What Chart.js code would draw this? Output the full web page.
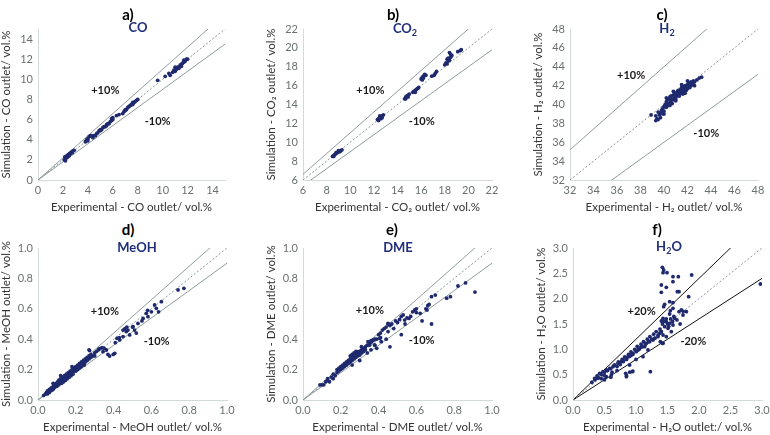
<!DOCTYPE html>
<html lang="en">
<head>
<meta charset="UTF-8">
<title>Simulation vs experimental outlet composition</title>
<script src="https://cdn.jsdelivr.net/npm/chart.js"></script>
<style>
body { margin:0; padding:0; background:#fff; font-family: Lato, "Liberation Sans", sans-serif; }
#wrap { position:relative; width:770px; height:435px; overflow:hidden; }
canvas { position:absolute; }
.tag { position:absolute; transform:translate(-50%,-50%); font-weight:bold; font-size:15px; color:#000; z-index:2; }
.sp { position:absolute; transform:translate(-50%,-50%); font-weight:bold; font-size:13px; color:#1f2f7a; z-index:2; white-space:nowrap; }
.sp sub { font-size:9px; }
</style>
</head>
<body>
<div id="wrap"></div>

<script>
// ---- data (experimental x, simulated y), vol.% ----
const coExp = [2.1,2.15,2.2,2.2,2.3,2.3,2.4,2.4,2.5,2.5,2.6,2.6,2.7,2.75,2.8,2.9,
  3.8,3.9,4.0,4.0,4.1,4.2,4.3,4.4,4.5,4.6,4.7,4.8,4.9,5.0,5.0,5.1,5.2,5.3,5.4,5.5,5.5,5.6,5.7,5.8,5.9,5.9,6.0,6.0,
  6.3,6.5,6.8,6.9,7.0,7.0,7.1,7.2,7.3,7.4,7.5,7.6,7.6,7.7,7.8,7.9,8.0,
  9.6,10.2,10.5,10.6,10.8,10.9,11.0,11.0,11.1,11.2,11.3,11.4,11.5,11.5,11.6,11.7,11.7,11.8,11.9,12.0];
const coSim = [2.0,2.3,2.2,1.9,2.4,2.2,2.5,2.3,2.6,2.4,2.7,2.6,2.8,2.7,2.9,2.95,
  3.8,4.0,4.1,3.9,4.3,4.4,4.4,4.2,4.4,4.4,4.6,4.7,4.9,5.0,4.9,5.0,5.2,5.3,5.3,5.5,5.4,5.6,5.6,5.8,5.9,6.1,6.0,6.2,
  6.4,6.5,6.6,6.8,7.0,6.9,7.0,7.2,7.3,7.4,7.5,7.5,7.7,7.7,7.8,7.9,8.0,
  9.9,10.3,10.6,10.4,10.7,10.9,10.8,11.2,11.0,11.2,11.1,11.4,11.5,11.3,11.6,11.7,11.9,11.8,12.0,12.0];

const co2Exp = [8.5,8.6,8.6,8.7,8.8,8.8,8.9,9.0,9.0,9.1,9.2,9.3,
  12.3,12.4,12.4,12.5,12.5,12.6,12.6,12.7,12.7,12.8,
  14.6,14.7,14.7,14.8,14.9,14.9,15.0,
  15.3,15.4,15.5,15.5,15.6,15.7,15.8,
  16.0,16.1,16.1,16.2,16.2,16.3,16.4,
  16.9,17.1,17.2,17.3,
  18.0,18.1,18.2,18.2,18.3,18.3,18.4,18.4,18.5,18.5,18.6,
  19.1,19.3,19.4];
const co2Sim = [8.5,8.6,8.5,8.7,8.8,8.9,8.9,9.0,9.1,9.0,9.1,9.2,
  12.4,12.5,12.3,12.6,12.8,12.7,12.5,12.8,12.6,12.9,
  14.6,14.8,14.6,14.9,15.0,14.8,15.1,
  15.3,15.4,15.5,15.3,15.6,15.7,15.8,
  16.7,16.9,16.6,17.0,16.8,17.2,17.1,
  17.0,17.1,17.3,17.5,
  18.2,18.4,18.3,18.8,18.6,18.9,18.7,19.5,19.0,19.3,19.2,
  19.6,19.7,19.8];

const h2Exp = [39.3,39.4,39.5,39.3,38.9,39.6,39.7,39.8,39.9,39.9,40.0,40.0,40.1,40.2,40.2,40.3,40.3,40.4,40.4,40.5,
  40.5,40.6,40.6,40.7,40.7,40.8,40.8,40.9,40.9,41.0,41.0,41.1,41.1,41.2,41.2,41.3,41.3,41.4,41.4,41.5,
  41.5,41.6,41.6,41.7,41.7,41.8,41.8,41.9,41.9,42.0,42.0,42.1,42.1,42.2,42.2,42.3,42.3,42.4,42.5,42.5,
  42.6,42.8,43.0,43.2,40.0,39.7,40.5,41.0,41.8,42.6,40.8,40.2,39.5,41.5,42.0];
const h2Sim = [38.3,38.5,38.4,38.8,38.9,38.9,39.1,39.4,39.0,39.6,39.8,39.3,40.0,39.7,40.3,40.0,40.5,39.9,40.6,40.2,
  40.8,40.4,40.9,40.1,40.6,41.0,40.5,40.8,41.2,40.6,41.0,41.3,40.9,41.1,41.5,40.9,41.3,41.6,41.2,41.4,
  41.8,41.1,41.6,41.9,41.4,41.7,42.0,41.5,41.9,42.1,41.7,42.0,42.3,41.8,42.2,42.4,42.0,42.3,42.1,42.5,
  42.4,42.6,42.8,42.9,39.0,38.6,39.9,40.4,41.2,42.0,41.4,40.7,39.2,42.1,42.5];

const meohExp = [0.03,0.04,0.045,0.05,0.05,0.06,0.06,0.065,0.07,0.07,0.075,0.08,0.08,0.085,0.09,0.09,0.095,0.1,0.1,0.105,
  0.11,0.11,0.115,0.12,0.12,0.125,0.13,0.13,0.135,0.14,0.14,0.145,0.15,0.15,0.155,0.16,0.16,0.165,0.17,0.17,
  0.175,0.18,0.18,0.185,0.19,0.19,0.195,0.2,0.2,0.205,0.21,0.21,0.215,0.22,0.22,0.225,0.23,0.23,0.24,0.24,
  0.245,0.25,0.25,0.26,0.26,0.27,0.27,0.28,0.28,0.29,0.3,0.3,0.31,0.32,0.33,0.34,0.35,0.12,0.08,0.18,0.27,
  0.273,0.323,0.344,0.362,0.37,0.379,0.398,0.406,0.409,0.418,0.432,0.45,0.467,0.476,0.485,0.503,0.511,0.529,
  0.556,0.573,0.582,0.617,0.626,0.638,0.653,0.741,0.772,0.58,0.6,0.55,0.5,0.45,0.47,0.43,0.52,0.46];
const meohSim = [0.03,0.04,0.05,0.04,0.06,0.05,0.07,0.06,0.07,0.08,0.065,0.09,0.07,0.08,0.1,0.085,0.11,0.09,0.11,0.12,
  0.1,0.13,0.115,0.12,0.14,0.11,0.13,0.15,0.12,0.14,0.16,0.13,0.15,0.17,0.14,0.16,0.18,0.15,0.17,0.19,
  0.16,0.18,0.2,0.17,0.19,0.21,0.2,0.19,0.22,0.21,0.2,0.23,0.22,0.21,0.24,0.23,0.22,0.25,0.24,0.26,
  0.23,0.25,0.27,0.26,0.28,0.27,0.29,0.28,0.3,0.29,0.31,0.29,0.32,0.33,0.34,0.345,0.34,0.16,0.11,0.22,0.33,
  0.325,0.336,0.318,0.329,0.30,0.289,0.30,0.307,0.377,0.406,0.395,0.417,0.45,0.46,0.428,0.482,0.46,0.504,
  0.537,0.57,0.548,0.625,0.603,0.58,0.647,0.724,0.735,0.59,0.58,0.52,0.48,0.46,0.48,0.41,0.44,0.47];

const dmeExp = [0.09,0.1,0.11,0.12,0.13,0.13,0.14,0.15,0.16,0.16,0.17,0.18,0.18,0.19,0.19,0.2,0.2,0.21,0.21,0.22,
  0.22,0.23,0.23,0.24,0.24,0.25,0.25,0.25,0.26,0.26,0.26,0.27,0.27,0.27,0.28,0.28,0.28,0.29,0.29,0.3,
  0.3,0.31,0.31,0.32,0.32,0.33,0.33,0.34,0.35,0.36,0.36,0.37,0.38,0.38,0.39,0.4,0.41,0.41,0.42,0.43,
  0.44,0.45,0.45,0.46,0.47,0.48,0.49,0.5,0.52,0.53,0.54,0.55,0.57,0.58,0.6,0.62,0.65,0.66,0.68,0.7,
  0.46,0.52,0.63,0.68,0.76,0.78,0.82,0.86,0.91,0.26,0.3,0.34,0.39,0.36,0.44,
  0.591,0.6,0.667,0.656,0.561,0.538,0.511,0.45,0.406,0.414,0.379,0.37,0.353,0.344,0.326,0.309,0.317,0.291,0.3];
const dmeSim = [0.1,0.1,0.1,0.12,0.13,0.14,0.12,0.15,0.14,0.17,0.16,0.18,0.2,0.19,0.21,0.2,0.22,0.21,0.23,0.22,
  0.24,0.23,0.25,0.24,0.26,0.25,0.27,0.29,0.26,0.28,0.3,0.27,0.29,0.31,0.28,0.3,0.32,0.29,0.31,0.3,
  0.32,0.31,0.33,0.32,0.34,0.33,0.35,0.36,0.37,0.39,0.38,0.39,0.4,0.36,0.4,0.43,0.44,0.41,0.46,0.47,
  0.48,0.45,0.5,0.49,0.5,0.47,0.52,0.51,0.55,0.56,0.5,0.54,0.55,0.58,0.6,0.57,0.6,0.62,0.68,0.69,
  0.35,0.43,0.52,0.5,0.67,0.68,0.75,0.77,0.71,0.23,0.26,0.31,0.34,0.33,0.4,
  0.592,0.575,0.629,0.592,0.537,0.526,0.53,0.504,0.406,0.384,0.362,0.395,0.362,0.384,0.34,0.351,0.318,0.318,0.296];

const h2oExp = [1.418,1.439,1.429,1.492,1.587,1.672,1.884,1.402,1.587,1.481,1.402,1.656,1.683,1.836,1.534,1.587,1.455,1.439,1.587,1.545,
  1.683,1.72,1.8,1.746,1.534,1.614,1.429,1.402,1.481,1.534,1.587,1.455,1.508,1.561,1.402,1.376,1.429,1.349,1.481,1.386,
  1.418,1.296,1.27,1.217,1.164,1.138,1.085,1.058,1.032,1.005,0.952,0.926,0.873,0.847,0.794,0.767,0.714,0.661,0.635,0.582,
  0.529,0.476,0.423,0.381,0.344,0.397,0.529,0.608,0.698,0.836,0.847,0.942,1.228,0.899,1.111,1.19,2.974,
  0.3,0.35,0.4,0.45,0.5,0.5,0.55,0.6,0.62,0.65,0.7,0.72,0.75,0.78,0.8,0.82,0.85,0.88,0.9,0.92,
  0.95,0.98,1.0,1.02,1.05,1.08,1.1,1.12,1.15,1.18,1.2,1.22,1.25,1.28,1.3,1.32,1.35,1.38,1.4,1.42,
  1.45,1.48,1.5,1.52,1.55,1.58,1.6,1.65,1.7,1.75,0.9,0.95,0.85,1.0,0.6,0.5,0.45,1.43];
const h2oSim = [2.618,2.566,2.513,2.513,2.434,2.434,2.467,2.27,2.336,2.224,2.125,2.138,2.138,2.04,1.941,1.921,1.888,1.842,1.809,1.763,
  1.743,1.776,1.743,1.678,1.697,1.612,1.612,1.559,1.546,1.513,1.48,1.447,1.414,1.349,1.349,1.316,1.283,1.25,1.25,1.151,
  1.118,1.217,1.184,1.151,1.118,1.053,1.053,1.02,0.987,0.954,0.921,0.888,0.855,0.822,0.789,0.757,0.724,0.691,0.658,0.625,
  0.592,0.559,0.526,0.474,0.428,0.428,0.461,0.493,0.579,0.526,0.461,0.559,0.559,0.691,0.855,0.987,2.289,
  0.35,0.4,0.45,0.5,0.48,0.55,0.58,0.62,0.55,0.68,0.66,0.75,0.7,0.8,0.76,0.85,0.8,0.9,0.86,0.95,
  0.9,1.0,0.97,1.06,1.0,1.1,1.05,1.15,1.1,1.2,1.15,1.25,1.2,1.3,1.22,1.35,1.28,1.4,1.35,1.5,
  1.55,1.6,1.5,1.45,1.6,1.55,1.65,1.58,1.5,1.75,0.55,0.57,0.48,0.8,0.45,0.4,0.42,1.12];

// ---- panel definitions ----
const panels = [
  { tag:'a)', name:'CO', exp:coExp, sim:coSim, min:0, max:15, step:2, dec:0, band:0.1, bandColor:'#8f9c9c',
    notes:[['+10%',5.4,8.9],['-10%',9.6,5.8]],
    xTitle:'Experimental - CO outlet/ vol.%', yTitle:'Simulation - CO outlet/ vol.%' },
  { tag:'b)', name:'CO<sub>2</sub>', exp:co2Exp, sim:co2Sim, min:6, max:22, step:2, dec:0, band:0.1, bandColor:'#8f9c9c',
    notes:[['+10%',11.7,15.5],['-10%',16.05,12.2]],
    xTitle:'Experimental - CO\u2082 outlet/ vol.%', yTitle:'Simulation - CO\u2082 outlet/ vol.%' },
  { tag:'c)', name:'H<sub>2</sub>', exp:h2Exp, sim:h2Sim, min:32, max:48, step:2, dec:0, band:0.1, bandColor:'#8f9c9c',
    notes:[['+10%',37.2,43.1],['-10%',43.6,36.95]],
    xTitle:'Experimental - H\u2082 outlet/ vol.%', yTitle:'Simulation - H\u2082 outlet/ vol.%' },
  { tag:'d)', name:'MeOH', exp:meohExp, sim:meohSim, min:0, max:1, step:0.2, dec:1, band:0.1, bandColor:'#8f9c9c',
    notes:[['+10%',0.354,0.58],['-10%',0.628,0.385]],
    xTitle:'Experimental - MeOH outlet/ vol.%', yTitle:'Simulation - MeOH outlet/ vol.%' },
  { tag:'e)', name:'DME', exp:dmeExp, sim:dmeSim, min:0, max:1, step:0.2, dec:1, band:0.1, bandColor:'#8f9c9c',
    notes:[['+10%',0.354,0.59],['-10%',0.628,0.39]],
    xTitle:'Experimental - DME outlet/ vol.%', yTitle:'Simulation - DME outlet/ vol.%' },
  { tag:'f)', name:'H<sub>2</sub>O', exp:h2oExp, sim:h2oSim, min:0, max:3, step:0.5, dec:1, band:0.2, bandColor:'#111111',
    notes:[['+20%',1.09,1.74],['-20%',1.91,1.15]],
    xTitle:'Experimental - H\u2082O outlet:/ vol.%', yTitle:'Simulation - H\u2082O outlet/ vol.%' }
];

// plot-area boxes in page pixels: left, top, right, bottom; tag / name centres
const frames = [
  { l:38,  t:29,  r:225, b:180, tag:[128,14], name:[138,27] },
  { l:303, t:29,  r:492, b:180, tag:[393,14], name:[405,29] },
  { l:570, t:29,  r:758, b:180, tag:[662,14], name:[667,29] },
  { l:38,  t:248, r:227, b:400, tag:[128,229], name:[137,247] },
  { l:303, t:248, r:492, b:400, tag:[392,229], name:[398,247] },
  { l:573, t:248, r:762, b:400, tag:[657,229], name:[669,247] }
];

const YW = 40, XH = 36, PT = 10, PR = 10;
const FONT = 'Lato, "Liberation Sans", sans-serif';
const wrap = document.getElementById('wrap');

const notesPlugin = {
  id: 'notes',
  afterDatasetsDraw(chart) {
    const notes = chart.options.plugins.notes.items || [];
    const ctx = chart.ctx, sx = chart.scales.x, sy = chart.scales.y;
    ctx.save();
    ctx.font = 'bold 11px ' + FONT;
    ctx.fillStyle = '#1a1a1a';
    ctx.textAlign = 'center';
    ctx.textBaseline = 'middle';
    notes.forEach(n => ctx.fillText(n[0], sx.getPixelForValue(n[1]), sy.getPixelForValue(n[2])));
    ctx.restore();
  }
};

panels.forEach((p, i) => {
  const f = frames[i];
  const w = (f.r - f.l) + YW + PR, h = (f.b - f.t) + PT + XH;
  const cv = document.createElement('canvas');
  cv.width = w; cv.height = h;
  cv.style.left = (f.l - YW) + 'px'; cv.style.top = (f.t - PT) + 'px';
  cv.style.width = w + 'px'; cv.style.height = h + 'px';
  wrap.appendChild(cv);

  const tag = document.createElement('div');
  tag.className = 'tag'; tag.textContent = p.tag;
  tag.style.left = f.tag[0] + 'px'; tag.style.top = f.tag[1] + 'px';
  wrap.appendChild(tag);
  const nm = document.createElement('div');
  nm.className = 'sp'; nm.innerHTML = p.name;
  nm.style.left = f.name[0] + 'px'; nm.style.top = f.name[1] + 'px';
  wrap.appendChild(nm);

  const pts = p.exp.map((x, k) => ({ x: x, y: p.sim[k] }));
  const refLine = (r, color, dash) => ({
    type: 'line',
    data: [{ x: p.min, y: p.min * r }, { x: p.max, y: p.max * r }],
    borderColor: color, borderWidth: 1, borderDash: dash,
    pointRadius: 0, fill: false, tension: 0
  });

  const axis = (title, pos) => ({
    type: 'linear', position: pos, min: p.min, max: p.max,
    grid: { display: false, drawTicks: false },
    border: { display: true, color: '#d4d9d9', width: 1 },
    ticks: {
      stepSize: p.step, includeBounds: false, padding: pos === 'left' ? 5 : 4,
      color: '#6a7070', font: { family: FONT, size: 11 },
      callback: v => Number(v).toFixed(p.dec)
    },
    title: {
      display: true, text: title, color: '#333',
      font: { family: FONT, size: 11.5 },
      padding: pos === 'left' ? { top: 1, bottom: 0 } : { top: 0, bottom: 2 }
    },
    afterFit: s => {
      if (pos === 'left') s.width = YW; else s.height = XH;
      s.paddingLeft = 0; s.paddingRight = 0; s.paddingTop = 0; s.paddingBottom = 0;
    }
  });

  new Chart(cv, {
    type: 'scatter',
    data: {
      datasets: [
        { data: pts, backgroundColor: '#1f2a6e', borderWidth: 0, pointRadius: 1.9, pointStyle: 'circle' },
        refLine(1, '#8a9696', [2, 2]),
        refLine(1 + p.band, p.bandColor, []),
        refLine(1 - p.band, p.bandColor, [])
      ]
    },
    options: {
      responsive: false, animation: false,
      layout: { padding: { left: 0, right: PR, top: PT, bottom: 0 } },
      plugins: { legend: { display: false }, tooltip: { enabled: false }, notes: { items: p.notes } },
      scales: { x: axis(p.xTitle, 'bottom'), y: axis(p.yTitle, 'left') }
    },
    plugins: [notesPlugin]
  });
});
</script>
</body>
</html>
